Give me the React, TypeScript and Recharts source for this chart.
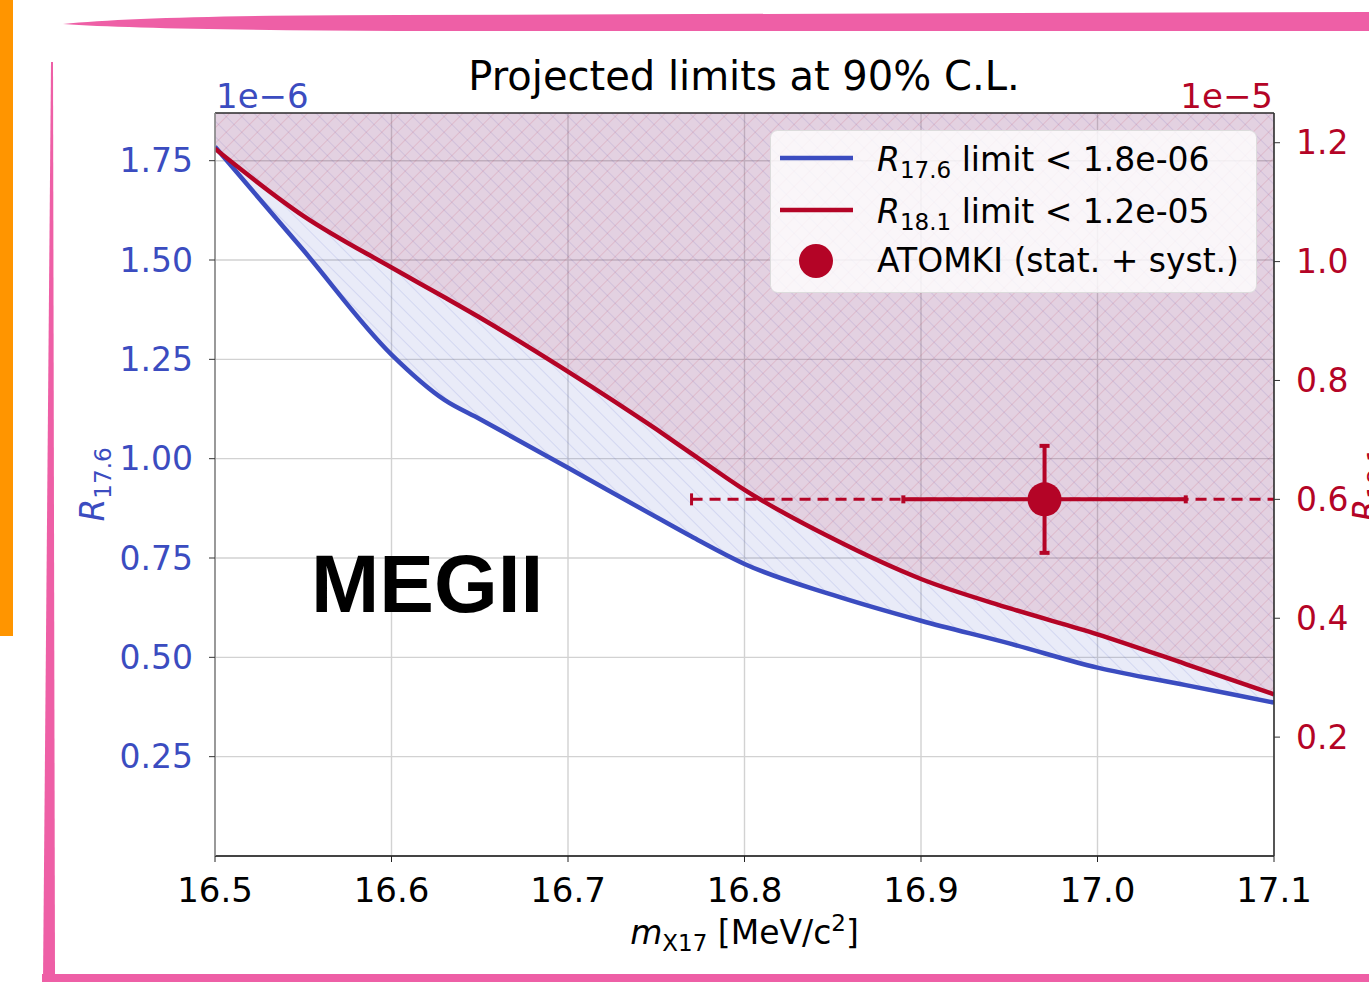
import React from 'react';
import {
  ComposedChart,
  Area,
  Line,
  Scatter,
  ErrorBar,
  XAxis,
  YAxis,
  CartesianGrid,
  Legend,
  ReferenceLine,
} from 'recharts';

// ---- data ----
const massPoints = [16.5, 16.55, 16.6, 16.63, 16.65, 16.7, 16.75, 16.77, 16.8, 16.85, 16.9, 16.95, 17.0, 17.05, 17.1];
// R17.6 limit, units of 1e-6 (left axis)
const limitR176 = [1.785, 1.525, 1.262, 1.148, 1.1, 0.977, 0.853, 0.804, 0.735, 0.657, 0.592, 0.535, 0.474, 0.43, 0.386];
// R18.1 limit, units of 1e-5 (right axis)
const limitR181 = [1.19, 1.077, 0.99, 0.94, 0.906, 0.815, 0.718, 0.677, 0.616, 0.534, 0.466, 0.417, 0.373, 0.323, 0.272];

const xTicks = [16.5, 16.6, 16.7, 16.8, 16.9, 17.0, 17.1];
const leftTicks = [0.25, 0.5, 0.75, 1.0, 1.25, 1.5, 1.75];
const rightTicks = [0.2, 0.4, 0.6, 0.8, 1.0, 1.2];
const xDomain = [16.5, 17.1];
const leftDomain = [0, 1.87];
const rightDomain = [0, 1.25];

// ATOMKI point (right axis)
const atomkiMass = [16.97];
const atomkiR = [0.6];
const atomkiStatErrX = [0.08];
const atomkiTotErrX = [0.2];
const atomkiErrY = [0.09];

const legendLabels = ['limit < 1.8e-06', 'limit < 1.2e-05', 'ATOMKI (stat. + syst.)'];

const BLUE = '#3B4CC0';
const RED = '#B40426';
const FONT = "'DejaVu Sans', sans-serif";

const data = massPoints.map((m, i) => ({
  m,
  r176: limitR176[i],
  r181: limitR181[i],
  band176: [limitR176[i], leftDomain[1]],
  band181: [limitR181[i], rightDomain[1]],
}));

const atomkiData = atomkiMass.map((m, i) => ({
  m,
  r: atomkiR[i],
  statX: atomkiStatErrX[i],
  errY: atomkiErrY[i],
}));

// total (stat + syst) horizontal uncertainty, drawn dashed
const atomkiTotData = [
  { m: atomkiMass[0] - atomkiTotErrX[0], r: atomkiR[0] },
  { m: atomkiMass[0] + atomkiTotErrX[0], r: atomkiR[0] },
];

const LegendBox = () => (
  <svg width={488} height={164} style={{ display: 'block', overflow: 'visible' }}>
    <rect x={0.5} y={0.5} width={486} height={162} rx={7} fill="#ffffff" fillOpacity={0.8} stroke="#dcdcdc" strokeWidth={1} />
    <line x1={10} y1={28} x2={83} y2={28} stroke={BLUE} strokeWidth={4.5} />
    <text x={107} y={41} fontSize={33} fill="#000" fontFamily={FONT}>
      <tspan fontStyle="italic">R</tspan>
      <tspan fontSize={23} dy={7}>17.6</tspan>
      <tspan dy={-7}>{' ' + legendLabels[0]}</tspan>
    </text>
    <line x1={10} y1={80} x2={83} y2={80} stroke={RED} strokeWidth={4.5} />
    <text x={107} y={93} fontSize={33} fill="#000" fontFamily={FONT}>
      <tspan fontStyle="italic">R</tspan>
      <tspan fontSize={23} dy={7}>18.1</tspan>
      <tspan dy={-7}>{' ' + legendLabels[1]}</tspan>
    </text>
    <circle cx={46} cy={131} r={17} fill={RED} />
    <text x={107} y={142} fontSize={33} fill="#000" fontFamily={FONT}>
      {legendLabels[2]}
    </text>
  </svg>
);

const LeftAxisLabel = (props: any) => {
  const vb = props.viewBox || { x: 0, y: 0, width: 0, height: 0 };
  const x = vb.x + 104;
  const y = vb.y + vb.height / 2;
  return (
    <text x={x} y={y} transform={`rotate(-90 ${x} ${y})`} textAnchor="middle" fill={BLUE} fontSize={33} fontFamily={FONT}>
      <tspan fontStyle="italic">R</tspan>
      <tspan fontSize={23} dy={7}>17.6</tspan>
    </text>
  );
};

const RightAxisLabel = (props: any) => {
  const vb = props.viewBox || { x: 0, y: 0, width: 0, height: 0 };
  const x = vb.x + 103;
  const y = vb.y + vb.height / 2;
  return (
    <text x={x} y={y} transform={`rotate(-90 ${x} ${y})`} textAnchor="middle" fill={RED} fontSize={33} fontFamily={FONT}>
      <tspan fontStyle="italic">R</tspan>
      <tspan fontSize={23} dy={7}>18.1</tspan>
    </text>
  );
};

const XAxisLabel = (props: any) => {
  const vb = props.viewBox || { x: 0, y: 0, width: 0, height: 0 };
  const x = vb.x + vb.width / 2;
  const y = vb.y + 88;
  return (
    <text x={x} y={y} textAnchor="middle" fill="#000" fontSize={33} fontFamily={FONT}>
      <tspan fontStyle="italic">m</tspan>
      <tspan fontSize={23} dy={7}>X17</tspan>
      <tspan dy={-7}> [MeV/c</tspan>
      <tspan fontSize={23} dy={-13}>2</tspan>
      <tspan dy={13}>]</tspan>
    </text>
  );
};

const AtomkiDot = (props: any) => {
  const { cx, cy } = props;
  if (cx == null || cy == null) return null;
  return <circle cx={cx} cy={cy} r={17} fill={RED} />;
};

const TotCap = (props: any) => {
  const { cx, cy, index } = props;
  if (index !== 0 || cx == null || cy == null) return <g key={`cap-${index}`} />;
  return <line key={`cap-${index}`} x1={cx} y1={cy - 6} x2={cx} y2={cy + 6} stroke={RED} strokeWidth={3} />;
};

export default function App() {
  return (
    <div
      style={{
        position: 'absolute',
        left: 0,
        top: 0,
        width: 1369,
        height: 982,
        background: '#fff',
        fontFamily: FONT,
        overflow: 'hidden',
      }}
    >
      <ComposedChart
        width={1369}
        height={982}
        data={data}
        margin={{ top: 113, right: 0, bottom: 0, left: 0 }}
      >
        <defs>
          <pattern id="hatchBlue" patternUnits="userSpaceOnUse" width={11} height={11} patternTransform="rotate(-45)">
            <rect x={0} y={0} width={11} height={11} fill={BLUE} fillOpacity={0.11} />
            <line x1={0} y1={0} x2={0} y2={11} stroke={BLUE} strokeOpacity={0.16} strokeWidth={1.6} />
          </pattern>
          <pattern id="hatchRed" patternUnits="userSpaceOnUse" width={11} height={11} patternTransform="rotate(45)">
            <rect x={0} y={0} width={11} height={11} fill={RED} fillOpacity={0.11} />
            <line x1={0} y1={0} x2={0} y2={11} stroke={RED} strokeOpacity={0.14} strokeWidth={1.6} />
          </pattern>
        </defs>
        <CartesianGrid yAxisId="left" stroke="#d2d2d2" strokeWidth={1.4} />
        <XAxis
          dataKey="m"
          type="number"
          domain={xDomain}
          ticks={xTicks}
          allowDataOverflow
          tickFormatter={(v: number) => v.toFixed(1)}
          height={126}
          tickSize={6}
          tickMargin={16}
          tick={{ fill: '#000', fontSize: 34, fontFamily: FONT }}
          tickLine={{ stroke: '#222' }}
          axisLine={{ stroke: '#111', strokeWidth: 1.6 }}
          label={<XAxisLabel />}
        />
        <YAxis
          yAxisId="left"
          orientation="left"
          type="number"
          domain={leftDomain}
          ticks={leftTicks}
          tickFormatter={(v: number) => v.toFixed(2)}
          width={215}
          tickSize={6}
          tickMargin={16}
          tick={{ fill: BLUE, fontSize: 33, fontFamily: FONT }}
          tickLine={{ stroke: '#333' }}
          axisLine={{ stroke: '#888', strokeWidth: 1.6 }}
          label={<LeftAxisLabel />}
        />
        <YAxis
          yAxisId="right"
          orientation="right"
          type="number"
          domain={rightDomain}
          ticks={rightTicks}
          tickFormatter={(v: number) => v.toFixed(1)}
          width={95}
          tickSize={6}
          tickMargin={16}
          tick={{ fill: RED, fontSize: 33, fontFamily: FONT }}
          tickLine={{ stroke: '#333' }}
          axisLine={{ stroke: '#333', strokeWidth: 1.6 }}
          label={<RightAxisLabel />}
        />
        <Area
          yAxisId="left"
          dataKey="band176"
          type="monotone"
          stroke="none"
          fill="url(#hatchBlue)"
          fillOpacity={1}
          isAnimationActive={false}
          legendType="none"
        />
        <Area
          yAxisId="right"
          dataKey="band181"
          type="monotone"
          stroke="none"
          fill="url(#hatchRed)"
          fillOpacity={1}
          isAnimationActive={false}
          legendType="none"
        />
        <ReferenceLine yAxisId="left" y={leftDomain[1]} stroke="#333" strokeWidth={1.6} />
        <Line
          yAxisId="left"
          dataKey="r176"
          type="monotone"
          stroke={BLUE}
          strokeWidth={4.5}
          dot={false}
          activeDot={false}
          isAnimationActive={false}
        />
        <Line
          yAxisId="right"
          dataKey="r181"
          type="monotone"
          stroke={RED}
          strokeWidth={4.5}
          dot={false}
          activeDot={false}
          isAnimationActive={false}
        />
        <Line
          yAxisId="right"
          data={atomkiTotData}
          dataKey="r"
          type="linear"
          stroke={RED}
          strokeWidth={3}
          strokeDasharray="11 7"
          dot={TotCap}
          activeDot={false}
          isAnimationActive={false}
          legendType="none"
        />
        <Scatter
          yAxisId="right"
          data={atomkiData}
          dataKey="r"
          fill={RED}
          shape={<AtomkiDot />}
          isAnimationActive={false}
        >
          <ErrorBar dataKey="statX" direction="x" width={4} stroke={RED} strokeWidth={4} />
          <ErrorBar dataKey="errY" direction="y" width={5} stroke={RED} strokeWidth={4} />
        </Scatter>
        <Legend
          layout="vertical"
          align="center"
          verticalAlign="middle"
          wrapperStyle={{ left: 770, top: 130, width: 488, height: 164 }}
          content={() => <LegendBox />}
        />
      </ComposedChart>

      <svg
        width={1369}
        height={982}
        style={{ position: 'absolute', left: 0, top: 0, pointerEvents: 'none' }}
      >
        {/* slide decorations */}
        <rect x={0} y={0} width={13} height={636} fill="#FF9500" />
        <path d="M63,24 Q150,15 400,15 L1369,12 L1369,31 L400,31 Q150,30 63,24 Z" fill="#EE5FA6" />
        <path d="M51,62 L53,62 L55,975 L43,982 Z" fill="#EE5FA6" />
        <rect x={42} y={974} width={1327} height={8} fill="#EE5FA6" />
        {/* title and texts */}
        <text x={744} y={90} textAnchor="middle" fontSize={40} fill="#000" fontFamily={FONT}>
          Projected limits at 90% C.L.
        </text>
        <text x={216} y={108} textAnchor="start" fontSize={34} fill={BLUE} fontFamily={FONT}>
          1e−6
        </text>
        <text x={1273} y={108} textAnchor="end" fontSize={34} fill={RED} fontFamily={FONT}>
          1e−5
        </text>
        <text x={311} y={612} fontSize={82} fontWeight="bold" fill="#000" fontFamily="'Liberation Sans', Arial, sans-serif">
          MEGII
        </text>
      </svg>
    </div>
  );
}
